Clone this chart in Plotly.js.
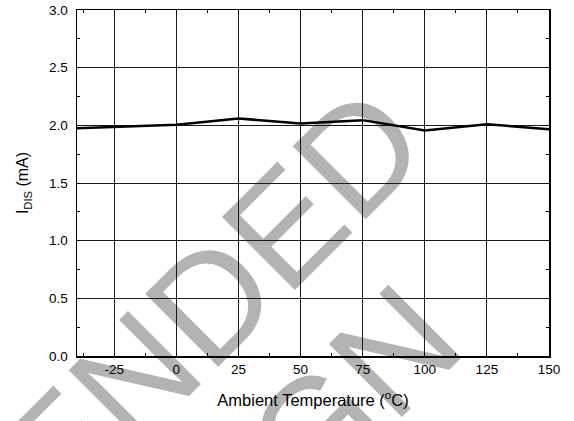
<!DOCTYPE html>
<html>
<head>
<meta charset="utf-8">
<script src="https://cdn.plot.ly/plotly-3.0.1.min.js"></script>
<style>
  html, body { margin: 0; padding: 0; background: #ffffff; }
  #chart { width: 574px; height: 421px; }
</style>
</head>
<body>
<div id="chart"></div>
<script>
// Data
const temperatureC = [-40, 0, 25, 50, 75, 100, 125, 150];
const dischargeCurrentMA = [1.975, 2.005, 2.06, 2.015, 2.045, 1.955, 2.01, 1.965];

// Axis tick labels
const xTickVals = [-25, 0, 25, 50, 75, 100, 125, 150];
const xTickText = ['-25', '0', '25', '50', '75', '100', '125', '150'];
const yTickVals = [0, 0.5, 1.0, 1.5, 2.0, 2.5, 3.0];
const yTickText = ['0.0', '0.5', '1.0', '1.5', '2.0', '2.5', '3.0'];

// Texts
const xTitle = 'Ambient Temperature (<sup>o</sup>C)';
const yTitle = 'I<sub>DIS</sub> (mA)';
const watermarkLines = ['NOT RECOMMENDED', 'FOR NEW DESIGN'];

const FONT = 'Liberation Sans, Arial, Helvetica, sans-serif';

const trace = {
  x: temperatureC,
  y: dischargeCurrentMA,
  type: 'scatter',
  mode: 'lines',
  line: { color: '#000000', width: 2.5 },
  hoverinfo: 'x+y',
  showlegend: false
};

// watermark placed by its line centres (paper coordinates), behind the grid
const wmCenters = [
  { x: -0.515, y: -0.872 },
  { x: -0.259, y: -1.199 }
];
const shapes = watermarkLines.map((t, i) => ({
  type: 'line', xref: 'paper', yref: 'paper', layer: 'below',
  x0: wmCenters[i].x - 0.001, x1: wmCenters[i].x + 0.001,
  y0: wmCenters[i].y, y1: wmCenters[i].y,
  line: { color: 'rgba(0,0,0,0)', width: 1 },
  label: {
    text: t, textangle: -45, textposition: 'middle',
    xanchor: 'center', yanchor: 'middle', padding: 0,
    font: { family: FONT, size: 150, color: '#b3b3b3' }
  }
}));

const axisCommon = {
  showline: true, linecolor: '#000000', linewidth: 1.5, mirror: 'allticks',
  showgrid: true, gridcolor: '#1a1a1a', gridwidth: 1,
  zeroline: false,
  ticks: 'inside', ticklen: 3, tickcolor: '#000000', tickwidth: 1,
  tickfont: { family: FONT, size: 13.5, color: '#000000' },
  automargin: false, fixedrange: true
};

const layout = {
  width: 574, height: 421,
  margin: { l: 77, r: 25, t: 10, b: 65, pad: 0 },
  paper_bgcolor: '#ffffff', plot_bgcolor: 'rgba(0,0,0,0)',
  font: { family: FONT, color: '#000000' },
  showlegend: false,
  shapes: shapes,
  xaxis: Object.assign({}, axisCommon, {
    range: [-40, 150],
    tickmode: 'array', tickvals: xTickVals, ticktext: xTickText,
    minor: { ticks: 'inside', ticklen: 3, tickcolor: '#000000', tick0: 0, dtick: 12.5, showgrid: false },
    title: { text: xTitle, font: { family: FONT, size: 16.5, color: '#000000' }, standoff: 18 }
  }),
  yaxis: Object.assign({}, axisCommon, {
    range: [0, 3],
    tickmode: 'array', tickvals: yTickVals, ticktext: yTickText,
    ticklabelstandoff: 5,
    minor: { ticks: 'inside', ticklen: 3, tickcolor: '#000000', tick0: 0, dtick: 0.25, showgrid: false },
    title: { text: yTitle, font: { family: FONT, size: 16, color: '#000000' }, standoff: 16 }
  })
};

Plotly.newPlot('chart', [trace], layout, { displayModeBar: false, staticPlot: true });
</script>
</body>
</html>
